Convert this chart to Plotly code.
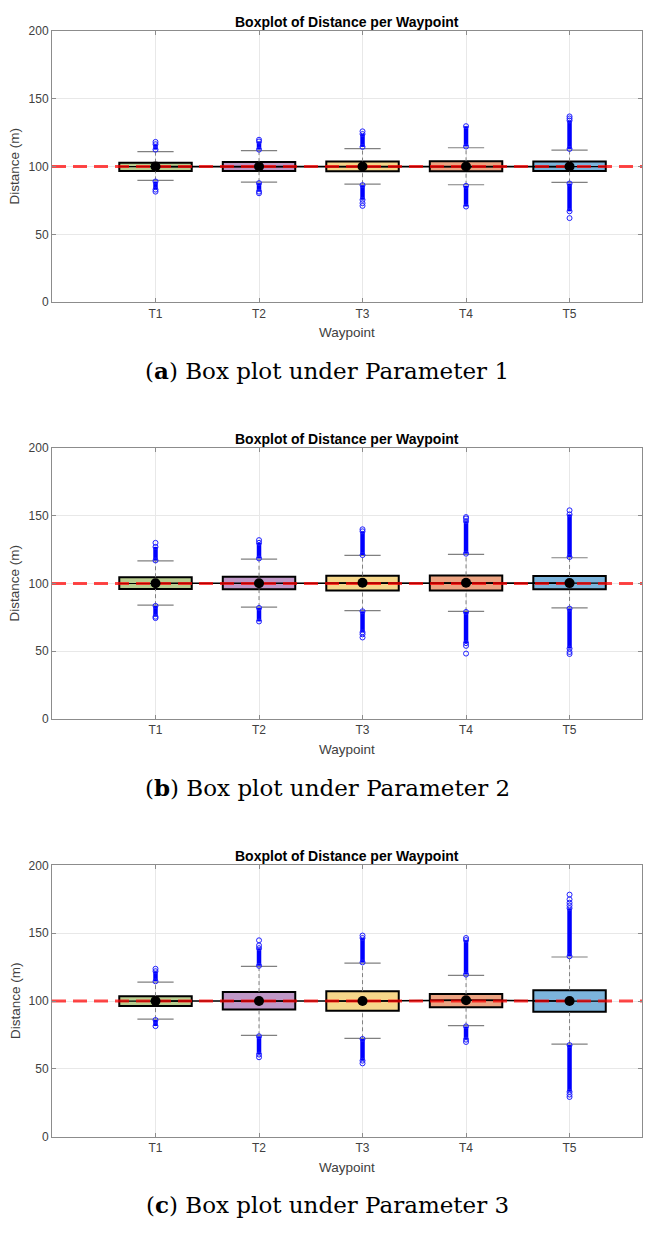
import plotly.graph_objects as go

# ---- data ----
waypoints = ["T1", "T2", "T3", "T4", "T5"]
box_colors = ["#b8cd8f", "#bf97c7", "#f6d68a", "#eca381", "#7cb4dc"]
target_distance = 100

# Parameter 1
p1_q1 = [96.8, 96.8, 96.6, 96.6, 96.8]
p1_median = [100, 100, 100, 100, 100]
p1_q3 = [102.9, 103.3, 103.7, 103.9, 103.7]
p1_lo_whisker = [89.8, 88.5, 87.0, 86.6, 88.3]
p1_hi_whisker = [111.0, 111.7, 113.2, 113.9, 112.2]
p1_mean = [100, 100, 100, 100, 100]
p1_hi_band = [[112.5, 116.5], [112.5, 118.5], [114.5, 124.0], [114.8, 129.8], [113.0, 134.0]]
p1_hi_extra = [[118.2], [119.8], [126.0], [], [135.5, 137.0]]
p1_lo_band = [[83.0, 89.0], [81.5, 87.8], [75.5, 86.3], [70.5, 85.8], [67.0, 87.5]]
p1_lo_extra = [[81.5], [80.3], [73.0, 71.0], [], [62.0]]

# Parameter 2
p2_q1 = [95.9, 95.7, 94.9, 94.9, 95.7]
p2_median = [100, 100, 100.5, 100.5, 100.3]
p2_q3 = [104.6, 105.0, 105.8, 106.0, 105.6]
p2_lo_whisker = [84.0, 82.6, 80.0, 79.5, 82.0]
p2_hi_whisker = [116.7, 118.0, 120.8, 121.5, 119.0]
p2_mean = [100.2, 100.2, 100.5, 100.5, 100.3]
p2_hi_band = [[117.0, 127.0], [118.5, 130.0], [121.0, 138.5], [122.0, 146.0], [119.5, 151.0]]
p2_hi_extra = [[130.0], [132.0], [140.0], [148.0, 149.0], [154.0]]
p2_lo_band = [[75.5, 83.5], [72.0, 82.0], [64.0, 79.5], [56.0, 79.0], [52.0, 81.5]]
p2_lo_extra = [[74.5], [], [62.5, 60.2], [54.0, 48.3], [49.5, 48.0]]

# Parameter 3
p3_q1 = [96.4, 93.7, 92.9, 95.4, 92.0]
p3_median = [100, 100, 100, 100.6, 100]
p3_q3 = [103.6, 106.6, 107.3, 105.1, 108.0]
p3_lo_whisker = [86.6, 74.7, 72.5, 81.8, 68.2]
p3_hi_whisker = [113.9, 125.5, 128.0, 119.0, 132.5]
p3_mean = [100, 100, 100, 100.6, 100]
p3_hi_band = [[114.5, 122.0], [126.0, 139.0], [128.5, 146.5], [119.5, 145.0], [133.0, 168.5]]
p3_hi_extra = [[123.8], [141.0, 144.8], [148.3], [146.5], [170.5, 172.5, 175.0, 178.5]]
p3_lo_band = [[81.5, 86.0], [60.5, 74.0], [56.0, 72.0], [71.5, 81.3], [33.0, 67.5]]
p3_lo_extra = [[], [58.5], [54.0], [69.8], [31.0, 29.2]]

captions = [("a", "Box plot under Parameter 1"),
            ("b", "Box plot under Parameter 2"),
            ("c", "Box plot under Parameter 3")]

# ---- layout helpers ----
W, H = 656, 1238
X_RANGE = [0, 5.7]
BOX_W = 0.7
CAP_W = 0.35
panel_tops = [24.3, 446.0, 868.3]   # px from top
panel_h = 274.2
left_px, right_px = 52, 642
SANS = "Liberation Sans, Arial, sans-serif"


def py(px):
    return 1 - px / H


panels = [
    dict(q1=p1_q1, med=p1_median, q3=p1_q3, lw=p1_lo_whisker, hw=p1_hi_whisker, mean=p1_mean,
         hb=p1_hi_band, he=p1_hi_extra, lb=p1_lo_band, le=p1_lo_extra),
    dict(q1=p2_q1, med=p2_median, q3=p2_q3, lw=p2_lo_whisker, hw=p2_hi_whisker, mean=p2_mean,
         hb=p2_hi_band, he=p2_hi_extra, lb=p2_lo_band, le=p2_lo_extra),
    dict(q1=p3_q1, med=p3_median, q3=p3_q3, lw=p3_lo_whisker, hw=p3_hi_whisker, mean=p3_mean,
         hb=p3_hi_band, he=p3_hi_extra, lb=p3_lo_band, le=p3_lo_extra),
]

fig = go.Figure()
xs = list(range(1, len(waypoints) + 1))

for i, p in enumerate(panels):
    xa = "x" if i == 0 else f"x{i + 1}"
    ya = "y" if i == 0 else f"y{i + 1}"

    # boxes
    fig.add_trace(go.Bar(
        x=xs, base=p["q1"], y=[b - a for a, b in zip(p["q1"], p["q3"])],
        width=BOX_W, marker=dict(color=box_colors, line=dict(color="black", width=2)),
        xaxis=xa, yaxis=ya, showlegend=False, hoverinfo="skip"))

    # whiskers (dashed) and caps
    wx, wy, cx, cy, mx, my = [], [], [], [], [], []
    for k, x in enumerate(xs):
        wx += [x, x, None, x, x, None]
        wy += [p["q3"][k], p["hw"][k], None, p["lw"][k], p["q1"][k], None]
        cx += [x - CAP_W / 2, x + CAP_W / 2, None, x - CAP_W / 2, x + CAP_W / 2, None]
        cy += [p["hw"][k], p["hw"][k], None, p["lw"][k], p["lw"][k], None]
        mx += [x - BOX_W / 2, x + BOX_W / 2, None]
        my += [p["med"][k], p["med"][k], None]
    fig.add_trace(go.Scatter(x=wx, y=wy, mode="lines", line=dict(color="#808080", width=1, dash="4px,3px"),
                             xaxis=xa, yaxis=ya, showlegend=False, hoverinfo="skip"))
    fig.add_trace(go.Scatter(x=cx, y=cy, mode="lines", line=dict(color="#808080", width=1.2),
                             xaxis=xa, yaxis=ya, showlegend=False, hoverinfo="skip"))
    fig.add_trace(go.Scatter(x=mx, y=my, mode="lines", line=dict(color="black", width=1.2),
                             xaxis=xa, yaxis=ya, showlegend=False, hoverinfo="skip"))

    # outliers: dense bands + sparse points
    bx, by, ox, oy = [], [], [], []
    for k, x in enumerate(xs):
        for band in (p["hb"][k], p["lb"][k]):
            bx += [x, x, None]
            by += [band[0], band[1], None]
            ox += [x, x]
            oy += [band[0], band[1]]
        for v in p["he"][k] + p["le"][k]:
            ox.append(x)
            oy.append(v)
    fig.add_trace(go.Scatter(x=bx, y=by, mode="lines", line=dict(color="#0000ff", width=4.5),
                             xaxis=xa, yaxis=ya, showlegend=False, hoverinfo="skip"))
    fig.add_trace(go.Scatter(x=ox, y=oy, mode="markers",
                             marker=dict(symbol="circle-open", size=5, color="#2020ff", line=dict(width=1)),
                             xaxis=xa, yaxis=ya, showlegend=False, hoverinfo="skip"))

    # mean line
    fig.add_trace(go.Scatter(x=xs, y=p["mean"], mode="lines", line=dict(color="black", width=1.6),
                             xaxis=xa, yaxis=ya, showlegend=False, hoverinfo="skip"))
    # target line
    fig.add_trace(go.Scatter(x=X_RANGE, y=[target_distance] * 2, mode="lines",
                             line=dict(color="rgba(255,0,0,0.72)", width=3, dash="14px,7px"),
                             xaxis=xa, yaxis=ya, showlegend=False, hoverinfo="skip"))
    # mean dots
    fig.add_trace(go.Scatter(x=xs, y=p["mean"], mode="markers", marker=dict(color="black", size=10),
                             xaxis=xa, yaxis=ya, showlegend=False, hoverinfo="skip"))

    top = panel_tops[i]
    bot = top + panel_h
    axis_common = dict(showline=True, linecolor="#8c8c8c", linewidth=1, mirror="ticks",
                       ticks="inside", ticklen=4, tickcolor="#8c8c8c", showgrid=True,
                       gridcolor="#e8e8e8", gridwidth=1, zeroline=False,
                       tickfont=dict(family=SANS, size=12, color="#404040"))
    fig.update_layout(**{
        ("xaxis" if i == 0 else f"xaxis{i + 1}"): dict(
            domain=[left_px / W, right_px / W], anchor=ya, range=X_RANGE,
            tickvals=xs, ticktext=waypoints, **axis_common),
        ("yaxis" if i == 0 else f"yaxis{i + 1}"): dict(
            domain=[py(bot), py(top)], anchor=xa, range=[0, 200],
            tickvals=[0, 50, 100, 150, 200], **axis_common),
    })

    cx_paper = (left_px + right_px) / 2 / W
    fig.add_annotation(text="<b>Boxplot of Distance per Waypoint</b>", xref="paper", yref="paper",
                       x=cx_paper, y=py(top - 9.5), showarrow=False, xanchor="center", yanchor="middle",
                       font=dict(family=SANS, size=14, color="black"))
    fig.add_annotation(text="Distance (m)", xref="paper", yref="paper", textangle=-90,
                       x=15 / W, y=py(top + panel_h / 2), showarrow=False, xanchor="center", yanchor="middle",
                       font=dict(family=SANS, size=13.5, color="#404040"))
    fig.add_annotation(text="Waypoint", xref="paper", yref="paper",
                       x=cx_paper, y=py(bot + 31), showarrow=False, xanchor="center", yanchor="middle",
                       font=dict(family=SANS, size=13.5, color="#404040"))
    letter, rest = captions[i]
    fig.add_annotation(text=f"(<b>{letter}</b>) {rest}", xref="paper", yref="paper",
                       x=327 / W, y=py(bot + 69), showarrow=False, xanchor="center", yanchor="middle",
                       font=dict(family="DejaVu Serif, serif", size=23, color="black"))

# size comes from the viewport (100vw x 100vh), all positions are fractions of it
fig.update_layout(autosize=True, margin=dict(l=0, r=0, t=0, b=0),
                  paper_bgcolor="white", plot_bgcolor="white", barmode="overlay", showlegend=False)

fig.write_html("out.html", default_width="100vw", default_height="100vh",
               config={"displayModeBar": False},
               post_script="document.body.style.margin='0';document.body.style.overflow='hidden';")
